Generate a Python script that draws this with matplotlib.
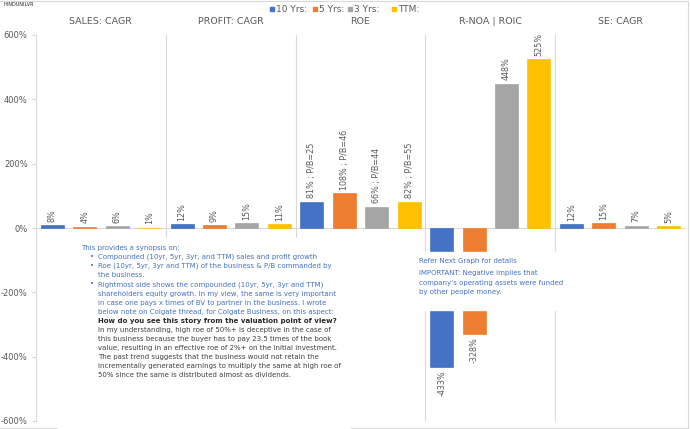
import matplotlib.pyplot as plt
from matplotlib.patches import Rectangle
from matplotlib.lines import Line2D

# data
panels = ['SALES: CAGR', 'PROFIT: CAGR', 'ROE', 'R-NOA | ROIC', 'SE: CAGR']
periods = ['10 Yrs:', '5 Yrs:', '3 Yrs:', 'TTM:']
colors = ['#4472C4', '#ED7D31', '#A5A5A5', '#FFC000']

sales = [8, 4, 6, 1]
profit = [12, 9, 15, 11]
roe = [81, 108, 66, 82]
pb = [25, 46, 44, 55]
rnoa = [-433, -328, 448, 525]
se = [12, 15, 7, 5]

yticks = [-600, -400, -200, 0, 200, 400, 600]

intro = "This provides a synopsis on:"
bullets = [
    ["Compounded (10yr, 5yr, 3yr, and TTM) sales and profit growth"],
    ["Roe (10yr, 5yr, 3yr and TTM) of the business & P/B commanded by",
     "the business."],
    ["Rightmost side shows the compounded (10yr, 5yr, 3yr and TTM)",
     "shareholders equity growth. In my view, the same is very important",
     "in case one pays x times of BV to partner in the business. I wrote",
     "below note on Colgate thread, for Colgate Business, on this aspect:"],
]
question = "How do you see this story from the valuation point of view?"
answer = [
    "In my understanding, high roe of 50%+ is deceptive in the case of",
    "this business because the buyer has to pay 23.5 times of the book",
    "value, resulting in an effective roe of 2%+ on the initial investment.",
    "The past trend suggests that the business would not retain the",
    "incrementally generated earnings to multiply the same at high roe of",
    "50% since the same is distributed almost as dividends.",
]
rnoa_note = ["Refer Next Graph for details",
             "IMPORTANT: Negative implies that",
             "company\u2019s operating assets were funded",
             "by other people money."]

W, H = 690, 429
GRID = '#D9D9D9'
LABEL = '#595959'
BLUE_TXT = '#4472C4'


def fx(x):
    return x / W


def fy(y):
    return 1 - y / H


fig = plt.figure(figsize=(W / 100, H / 100), dpi=100)
ax = fig.add_axes([fx(36), fy(421), (685 - 36) / W, (421 - 35) / H])

data = [sales, profit, roe, rnoa, se]
for g, vals in enumerate(data):
    for i, v in enumerate(vals):
        x = g * 4 + i
        ax.bar(x, v, width=0.71, color=colors[i], edgecolor=colors[i], linewidth=0.5, zorder=2)
        if g == 2:
            txt = '{}% ; P/B={}'.format(v, pb[i])
        else:
            txt = '{}%'.format(v)
        off = 2.5 if v >= 0 else -2.5
        ax.annotate(txt, (x, v), xytext=(0, off), textcoords='offset points',
                    rotation=90, ha='center', va='bottom' if v >= 0 else 'top',
                    fontsize=5.8, color=LABEL, zorder=3)

ax.set_xlim(-0.5, 19.5)
ax.set_ylim(-600, 600)
ax.set_xticks([])
ax.set_yticks(yticks)
ax.set_yticklabels(['{}%'.format(t) for t in yticks])
ax.tick_params(axis='y', length=3, color=GRID, labelcolor=LABEL, labelsize=6, pad=3)
for s in ['top', 'right', 'bottom']:
    ax.spines[s].set_visible(False)
ax.spines['left'].set_color(GRID)
ax.axhline(0, color=GRID, lw=0.8, zorder=1)
for g in range(5):
    ax.axvline(g * 4 + 3.5, color=GRID, lw=0.8, zorder=1)
    ax.text(g * 4 + 1.5, 1.035, panels[g], transform=ax.get_xaxis_transform(),
            ha='center', va='center', fontsize=6.8, color=LABEL)

# legend
leg_x = [272, 315, 350, 394]
for i, lab in enumerate(periods):
    fig.add_artist(Rectangle((fx(leg_x[i] - 2), fy(11)), 4 / W, 4 / H,
                             transform=fig.transFigure, color=colors[i]))
    fig.text(fx(leg_x[i] + 4), fy(9), lab, fontsize=6.5, color=LABEL, va='center')

fig.text(fx(3), fy(5), 'HINDUNILVR', fontsize=3.5, color='#262626', va='center')

# outer border
for xs, ys in [([0, 688], [1, 1]), ([688, 688], [1, 428]), ([0, 688], [428, 428])]:
    fig.add_artist(Line2D([fx(v) for v in xs], [fy(v) for v in ys],
                          color=GRID, lw=0.8, transform=fig.transFigure))

# white note boxes over the chart
fig.add_artist(Rectangle((fx(58), fy(430)), (350 - 58) / W, (430 - 238) / H,
                         transform=fig.transFigure, color='white', zorder=5))
fig.add_artist(Rectangle((fx(412), fy(310)), (572 - 412) / W, (310 - 252) / H,
                         transform=fig.transFigure, color='white', zorder=5))

fs = 5.0
step = 9.1
y = 248
fig.text(fx(81), fy(y), intro, fontsize=fs, color=BLUE_TXT, va='center', zorder=6)
for b in bullets:
    for k, line in enumerate(b):
        y += step
        if k == 0:
            fig.text(fx(90), fy(y), '\u2022', fontsize=fs, color=BLUE_TXT, va='center', zorder=6)
        fig.text(fx(98), fy(y), line, fontsize=fs, color=BLUE_TXT, va='center', zorder=6)
y += step
fig.text(fx(98), fy(y), question, fontsize=fs, color='#262626', va='center',
         fontweight='bold', zorder=6)
for line in answer:
    y += step
    fig.text(fx(98), fy(y), line, fontsize=fs, color='#404040', va='center', zorder=6)

note_y = [261, 273, 283, 292]
for yy, line in zip(note_y, rnoa_note):
    fig.text(fx(419), fy(yy), line, fontsize=fs, color=BLUE_TXT, va='center', zorder=6)

fig.savefig('out.png', dpi=100)
